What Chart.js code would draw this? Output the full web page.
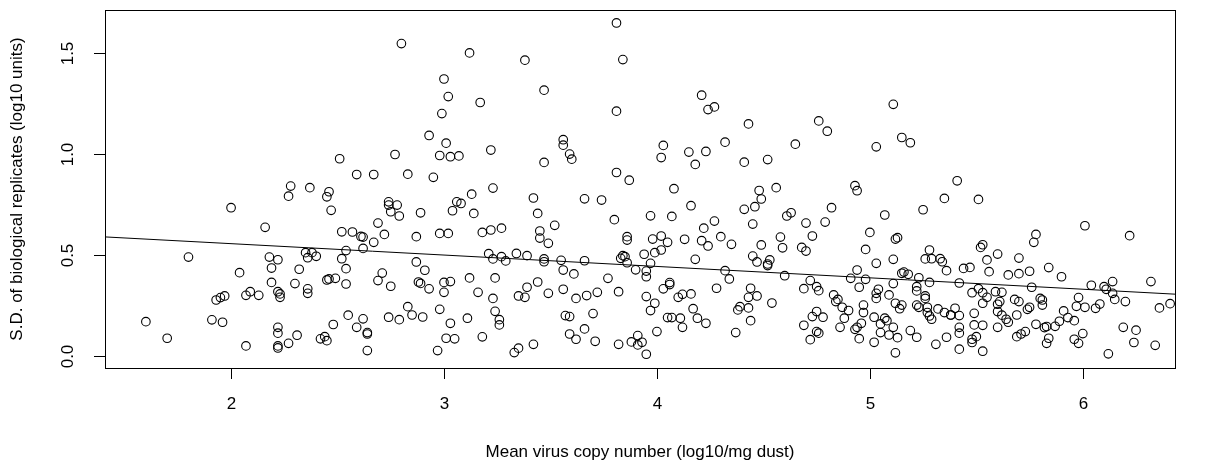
<!DOCTYPE html>
<html>
<head>
<meta charset="utf-8">
<script src="https://cdn.jsdelivr.net/npm/chart.js@4/dist/chart.umd.min.js"></script>
<style>
  html, body { margin: 0; padding: 0; background: #fff; overflow: hidden; }
  #wrap { width: 1206px; height: 468px; }
</style>
</head>
<body>
<div id="wrap"><canvas id="scatter" width="1206" height="468"></canvas></div>
<script>
// mean virus copy number (log10/mg dust)
const MEAN_COPY = [
    // upper band
    2.80, 3.00, 3.02, 2.99, 2.93, 3.01, 2.98, 3.03, 2.77, 2.51, 2.59, 2.67, 2.83, 2.95, 2.28, 2.37, 2.46,
    3.81, 3.12, 3.38, 3.84, 3.47, 3.17, 3.81, 3.56, 3.56, 3.59, 3.60, 3.47, 3.22, 3.07, 3.81, 3.87, 3.23,
    4.21, 4.24, 4.27, 4.43, 4.03, 4.02, 4.15, 4.23, 4.32, 4.18, 4.41, 4.52, 4.65, 4.08, 4.48, 4.56,
    5.11, 4.76, 4.80, 5.15, 5.19, 5.03, 4.93, 4.94, 5.41,
    // x < 2.2
    2.00, 2.16, 1.80, 2.18, 2.19, 2.04, 2.19, 1.93, 1.95, 1.97, 2.07, 2.09, 2.13, 1.60, 1.91, 1.96, 1.70, 2.07,
    // 2.2 - 3.05
    2.27, 2.45, 2.47, 2.74, 2.74, 2.78, 2.75, 2.79, 2.89, 3.04, 2.69, 2.52, 2.57, 2.61, 2.62, 2.72, 2.67,
    2.87, 2.98, 3.02, 2.62, 2.54, 2.35, 2.38, 2.36, 2.40, 2.52, 2.22, 2.32, 2.54, 2.87, 2.91, 2.71, 2.69,
    2.75, 2.45, 2.46, 2.49, 2.30, 2.54, 2.88, 2.89, 2.93, 3.00, 3.03, 3.00, 2.36, 2.36, 2.22, 2.23, 2.23,
    2.83, 2.85, 2.90, 2.98, 2.74, 2.79, 2.55, 2.62, 2.59, 2.64, 2.64, 2.48, 3.03, 2.22, 2.22, 2.31, 2.42,
    2.44, 2.45, 2.27, 2.22, 2.22, 2.64, 2.97, 3.01, 3.05,
    // 3.05 - 3.9
    3.06, 3.08, 3.13, 3.42, 3.66, 3.74, 3.14, 3.44, 3.52, 3.80, 3.18, 3.22, 3.27, 3.45, 3.45, 3.49, 3.86,
    3.86, 3.21, 3.23, 3.27, 3.29, 3.34, 3.39, 3.47, 3.47, 3.55, 3.66, 3.56, 3.61, 3.83, 3.84, 3.85, 3.86,
    3.90, 3.12, 3.24, 3.44, 3.77, 3.16, 3.23, 3.35, 3.38, 3.39, 3.49, 3.56, 3.62, 3.67, 3.72, 3.82, 3.24,
    3.26, 3.26, 3.11, 3.57, 3.59, 3.70, 3.66, 3.59, 3.62, 3.71, 3.18, 3.42, 3.35, 3.33, 3.82, 3.88,
    // 3.9 - 4.74
    4.49, 4.41, 4.46, 4.16, 3.97, 4.07, 4.27, 4.22, 4.45, 4.61, 4.63, 4.70, 4.73, 4.02, 3.98, 4.05, 4.02,
    3.99, 3.94, 4.13, 4.21, 4.24, 4.30, 4.35, 4.49, 4.58, 4.59, 4.68, 4.70, 4.18, 3.97, 3.95, 3.95, 4.45,
    4.47, 4.53, 4.52, 4.52, 4.32, 4.34, 4.60, 4.72, 4.69, 4.06, 4.06, 4.03, 4.28, 3.95, 3.99, 3.97, 4.10,
    4.12, 4.16, 4.44, 4.43, 4.47, 4.54, 4.17, 4.39, 4.38, 4.43, 4.05, 4.07, 4.11, 4.19, 4.12, 4.23, 4.44,
    4.37, 4.00, 3.91, 3.93, 3.91, 3.95, 4.73, 4.69, 4.72,
    // 4.74 - 5.58
    5.35, 5.51, 4.82, 4.79, 5.07, 5.25, 5.00, 5.12, 5.13, 4.98, 5.28, 5.26, 5.29, 5.33, 5.34, 5.36, 5.11,
    5.03, 5.52, 5.53, 5.55, 5.44, 5.47, 5.56, 4.94, 4.91, 4.98, 5.15, 5.16, 5.18, 5.23, 5.28, 5.11, 5.42,
    4.95, 4.75, 4.76, 5.04, 5.03, 5.03, 5.09, 5.22, 5.22, 5.26, 5.26, 5.48, 5.51, 5.53, 5.55, 5.53, 4.83,
    4.85, 4.84, 4.87, 4.90, 4.88, 4.97, 4.97, 5.12, 5.15, 5.14, 5.22, 5.23, 5.27, 5.27, 5.28, 5.29, 5.32,
    5.35, 5.38, 5.38, 5.40, 5.42, 5.49, 4.75, 4.78, 5.02, 5.07, 5.08, 5.05, 5.05, 5.11, 5.09, 5.13, 4.96,
    4.94, 4.93, 4.95, 4.86, 5.02, 5.19, 5.22, 5.12, 5.31, 5.36, 5.42, 5.42, 5.42, 5.49, 5.53, 5.50, 5.48,
    5.48, 5.53, 4.75, 4.76,
    // x > 5.58
    6.01, 5.78, 5.77, 6.22, 5.60, 5.70, 5.65, 5.70, 5.75, 5.84, 5.90, 5.76, 6.04, 6.10, 6.11, 6.14, 6.14,
    6.15, 6.32, 6.20, 6.41, 6.36, 5.59, 5.62, 5.61, 5.60, 5.60, 5.62, 5.64, 5.65, 5.60, 5.68, 5.70, 5.80,
    5.81, 5.81, 5.75, 5.74, 5.69, 5.91, 5.89, 5.93, 5.96, 5.98, 5.97, 6.01, 6.06, 6.08, 5.78, 5.82, 5.83,
    5.87, 6.19, 6.25, 5.71, 5.69, 5.73, 5.84, 5.83, 5.96, 5.98, 6.00, 6.24, 6.34, 6.12
];

// S.D. of biological replicates (log10 units), same order as MEAN_COPY
const SD_REPLICATES = [
    1.545, 1.370, 1.283, 1.199, 1.091, 1.053, 0.992, 0.986, 0.997, 0.976, 0.898, 0.898, 0.900, 0.884, 0.841, 0.833, 0.813,
    1.647, 1.499, 1.463, 1.466, 1.315, 1.254, 1.211, 1.070, 1.043, 0.999, 0.974, 0.958, 1.019, 0.990, 0.908, 0.870, 0.831,
    1.290, 1.219, 1.232, 1.148, 1.042, 0.982, 1.009, 1.012, 1.058, 0.948, 0.959, 0.972, 1.048, 0.828, 0.819, 0.833,
    1.245, 1.163, 1.112, 1.081, 1.055, 1.035, 0.843, 0.818, 0.867,
    0.734, 0.637, 0.490, 0.490, 0.436, 0.413, 0.365, 0.278, 0.290, 0.298, 0.301, 0.319, 0.301, 0.171, 0.180, 0.168, 0.089, 0.051,
    0.791, 0.788, 0.721, 0.763, 0.747, 0.747, 0.714, 0.693, 0.709, 0.719, 0.658, 0.615, 0.614, 0.592, 0.589, 0.602, 0.563,
    0.591, 0.607, 0.607, 0.533, 0.522, 0.512, 0.512, 0.487, 0.494, 0.482, 0.477, 0.430, 0.433, 0.466, 0.425, 0.411, 0.374,
    0.346, 0.377, 0.382, 0.385, 0.359, 0.357, 0.367, 0.360, 0.333, 0.365, 0.369, 0.316, 0.333, 0.311, 0.319, 0.308, 0.291,
    0.245, 0.204, 0.194, 0.232, 0.193, 0.181, 0.203, 0.185, 0.143, 0.117, 0.110, 0.157, 0.163, 0.143, 0.114, 0.104, 0.086,
    0.097, 0.077, 0.064, 0.051, 0.041, 0.028, 0.028, 0.089, 0.086,
    0.763, 0.755, 0.801, 0.782, 0.778, 0.772, 0.706, 0.706, 0.647, 0.675, 0.612, 0.624, 0.633, 0.619, 0.584, 0.558, 0.591,
    0.574, 0.507, 0.481, 0.492, 0.471, 0.508, 0.497, 0.481, 0.467, 0.474, 0.472, 0.426, 0.407, 0.484, 0.497, 0.492, 0.462,
    0.427, 0.387, 0.387, 0.367, 0.385, 0.316, 0.286, 0.298, 0.291, 0.341, 0.311, 0.331, 0.286, 0.300, 0.316, 0.319, 0.222,
    0.181, 0.155, 0.188, 0.201, 0.196, 0.211, 0.135, 0.110, 0.084, 0.074, 0.096, 0.059, 0.040, 0.018, 0.059, 0.071,
    0.777, 0.726, 0.739, 0.744, 0.694, 0.691, 0.668, 0.633, 0.653, 0.693, 0.709, 0.658, 0.594, 0.594, 0.579, 0.563, 0.525,
    0.512, 0.504, 0.578, 0.571, 0.545, 0.591, 0.553, 0.550, 0.589, 0.536, 0.538, 0.520, 0.479, 0.459, 0.421, 0.393, 0.495,
    0.466, 0.476, 0.456, 0.448, 0.423, 0.382, 0.398, 0.374, 0.334, 0.364, 0.354, 0.333, 0.336, 0.295, 0.262, 0.226, 0.291,
    0.306, 0.308, 0.336, 0.291, 0.298, 0.263, 0.235, 0.245, 0.229, 0.239, 0.191, 0.191, 0.188, 0.188, 0.143, 0.163, 0.176,
    0.117, 0.122, 0.102, 0.069, 0.056, 0.010, 0.196, 0.153, 0.082,
    0.780, 0.775, 0.734, 0.663, 0.698, 0.724, 0.612, 0.579, 0.586, 0.528, 0.525, 0.481, 0.482, 0.482, 0.467, 0.423, 0.479,
    0.459, 0.538, 0.551, 0.476, 0.434, 0.439, 0.418, 0.426, 0.385, 0.380, 0.410, 0.416, 0.405, 0.388, 0.365, 0.359, 0.362,
    0.341, 0.344, 0.324, 0.331, 0.311, 0.286, 0.303, 0.344, 0.323, 0.298, 0.286, 0.314, 0.334, 0.314, 0.291, 0.262, 0.303,
    0.281, 0.270, 0.242, 0.226, 0.188, 0.253, 0.216, 0.262, 0.253, 0.235, 0.253, 0.242, 0.242, 0.216, 0.199, 0.183, 0.234,
    0.216, 0.204, 0.204, 0.237, 0.201, 0.212, 0.221, 0.193, 0.193, 0.188, 0.176, 0.160, 0.117, 0.143, 0.105, 0.092, 0.163,
    0.143, 0.133, 0.087, 0.143, 0.069, 0.127, 0.094, 0.017, 0.059, 0.094, 0.143, 0.114, 0.035, 0.155, 0.153, 0.097, 0.084,
    0.068, 0.025, 0.122, 0.114,
    0.645, 0.602, 0.563, 0.596, 0.505, 0.485, 0.402, 0.408, 0.420, 0.438, 0.393, 0.341, 0.351, 0.344, 0.331, 0.369, 0.311,
    0.281, 0.369, 0.270, 0.260, 0.239, 0.319, 0.316, 0.270, 0.257, 0.221, 0.203, 0.183, 0.168, 0.143, 0.281, 0.270, 0.286,
    0.278, 0.253, 0.242, 0.232, 0.204, 0.224, 0.173, 0.191, 0.176, 0.290, 0.247, 0.242, 0.237, 0.258, 0.158, 0.142, 0.147,
    0.148, 0.143, 0.129, 0.110, 0.097, 0.122, 0.089, 0.064, 0.084, 0.064, 0.112, 0.068, 0.054, 0.012
];

const X_TICKS = [2, 3, 4, 5, 6];
const Y_TICKS = [0, 0.5, 1, 1.5];
const Y_TICK_LABELS = ['0.0', '0.5', '1.0', '1.5'];
const X_TITLE = 'Mean virus copy number (log10/mg dust)';
const Y_TITLE = 'S.D. of biological replicates (log10 units)';

// fitted line y = a + b*x
const FIT_INTERCEPT = 0.669;
const FIT_SLOPE = -0.0563;

const X_RANGE = [1.408, 6.433];
const Y_RANGE = [-0.058, 1.711];

const FONT = '17px "Liberation Sans", Arial, sans-serif';

const points = MEAN_COPY.map((x, i) => ({ x: x, y: SD_REPLICATES[i] }));
const fitLine = X_RANGE.map(x => ({ x: x, y: FIT_INTERCEPT + FIT_SLOPE * x }));

// R style box, ticks and labels drawn from the chart's scales
const rAxes = {
    id: 'rAxes',
    afterDraw(chart) {
        const ctx = chart.ctx;
        const area = chart.chartArea;
        const xs = chart.scales.x;
        const ys = chart.scales.y;
        ctx.save();
        ctx.strokeStyle = '#000';
        ctx.fillStyle = '#000';
        ctx.lineWidth = 1;
        ctx.strokeRect(Math.round(area.left) + 0.5, Math.round(area.top) + 0.5,
            Math.round(area.right - area.left), Math.round(area.bottom - area.top));

        ctx.font = FONT;
        ctx.textAlign = 'center';
        ctx.textBaseline = 'middle';

        X_TICKS.forEach(v => {
            const px = Math.round(xs.getPixelForValue(v)) + 0.5;
            ctx.beginPath();
            ctx.moveTo(px, area.bottom);
            ctx.lineTo(px, area.bottom + 11);
            ctx.stroke();
            ctx.fillText(String(v), px, area.bottom + 36);
        });

        Y_TICKS.forEach((v, i) => {
            const py = Math.round(ys.getPixelForValue(v)) + 0.5;
            ctx.beginPath();
            ctx.moveTo(area.left - 11, py);
            ctx.lineTo(area.left, py);
            ctx.stroke();
            ctx.save();
            ctx.translate(area.left - 37, py);
            ctx.rotate(-Math.PI / 2);
            ctx.fillText(Y_TICK_LABELS[i], 0, 0);
            ctx.restore();
        });

        ctx.fillText(X_TITLE, (area.left + area.right) / 2, area.bottom + 84);
        ctx.save();
        ctx.translate(area.left - 88, (area.top + area.bottom) / 2);
        ctx.rotate(-Math.PI / 2);
        ctx.fillText(Y_TITLE, 0, 0);
        ctx.restore();
        ctx.restore();
    }
};

new Chart(document.getElementById('scatter'), {
    type: 'scatter',
    data: {
        datasets: [
            {
                data: points,
                pointStyle: 'circle',
                pointRadius: 4.3,
                pointBorderWidth: 1.1,
                borderColor: '#000',
                backgroundColor: 'rgba(0,0,0,0)',
                pointHoverRadius: 4.3
            },
            {
                type: 'line',
                data: fitLine,
                borderColor: '#000',
                borderWidth: 1,
                pointRadius: 0,
                fill: false
            }
        ]
    },
    options: {
        responsive: false,
        animation: false,
        devicePixelRatio: 1,
        layout: { padding: { left: 105, right: 31, top: 10, bottom: 100 } },
        scales: {
            x: { type: 'linear', min: X_RANGE[0], max: X_RANGE[1], display: false },
            y: { type: 'linear', min: Y_RANGE[0], max: Y_RANGE[1], display: false }
        },
        plugins: {
            legend: { display: false },
            tooltip: { enabled: false }
        }
    },
    plugins: [rAxes]
});
</script>
</body>
</html>
